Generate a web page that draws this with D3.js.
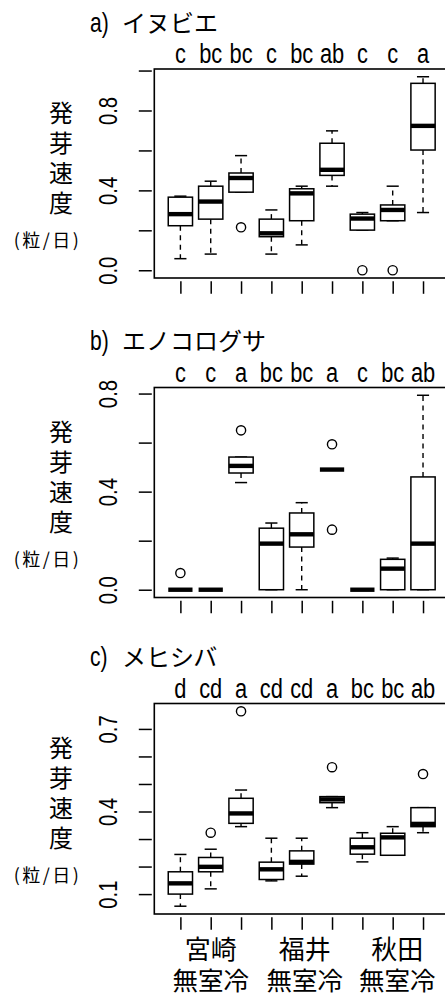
<!DOCTYPE html>
<html>
<head>
<meta charset="utf-8">
<script src="https://cdn.jsdelivr.net/npm/d3@7"></script>
<style>
  html, body { margin: 0; padding: 0; background: #fff; }
  svg { display: block; }
  .lat { font-family: "Liberation Sans", Arial, sans-serif; }
  .cjk { font-family: "Noto Sans CJK JP", "Noto Sans", sans-serif; }
</style>
</head>
<body>
<script>
// Germination speed (seeds/day) by site and storage treatment, three weed species.
const sites = ["宮崎", "福井", "秋田"];
const treatments = ["無", "室", "冷"];
const titleLetters = ["a)", "b)", "c)"];
const titleNames = ["イヌビエ", "エノコログサ", "メヒシバ"];
const yLabel = ["発", "芽", "速", "度"];
const yUnit = "(粒/日)";

// Significance letters, one per box
const lettersA = ["c", "bc", "bc", "c", "bc", "ab", "c", "c", "a"];
const lettersB = ["c", "c", "a", "bc", "bc", "a", "c", "bc", "ab"];
const lettersC = ["d", "cd", "a", "cd", "cd", "a", "bc", "bc", "ab"];

// Box statistics: [lower whisker, Q1, median, Q3, upper whisker]
const statsA = [
  [0.058, 0.223, 0.281, 0.366, 0.371],
  [0.081, 0.256, 0.344, 0.421, 0.446],
  [0.391, 0.391, 0.462, 0.487, 0.574],
  [0.081, 0.168, 0.185, 0.256, 0.302],
  [0.127, 0.248, 0.385, 0.408, 0.421],
  [0.421, 0.475, 0.503, 0.636, 0.698],
  [0.201, 0.201, 0.259, 0.281, 0.289],
  [0.248, 0.248, 0.302, 0.327, 0.421],
  [0.289, 0.602, 0.723, 0.936, 0.969]
];
const outliersA = [[], [], [0.215], [], [], [], [0.0], [0.0], []];

const statsB = [
  [0, 0, 0, 0, 0],
  [0, 0, 0, 0, 0],
  [0.437, 0.476, 0.505, 0.541, 0.541],
  [0, 0, 0.188, 0.251, 0.272],
  [0, 0.174, 0.226, 0.313, 0.355],
  [0.49, 0.49, 0.49, 0.49, 0.49],
  [0, 0, 0, 0, 0],
  [0, 0, 0.086, 0.124, 0.129],
  [0, 0, 0.188, 0.460, 0.793]
];
const outliersB = [[0.068], [], [0.650], [], [], [0.593, 0.245], [], [], []];

const statsC = [
  [0.056, 0.100, 0.139, 0.181, 0.244],
  [0.119, 0.181, 0.199, 0.233, 0.263],
  [0.345, 0.357, 0.393, 0.448, 0.478],
  [0.148, 0.153, 0.190, 0.216, 0.303],
  [0.165, 0.209, 0.217, 0.257, 0.303],
  [0.414, 0.432, 0.444, 0.454, 0.454],
  [0.217, 0.245, 0.270, 0.303, 0.323],
  [0.241, 0.241, 0.306, 0.321, 0.345],
  [0.323, 0.345, 0.355, 0.414, 0.414]
];
const outliersC = [[], [0.323], [0.764], [], [], [0.561], [], [], [0.536]];

// Axis ticks and which of them carry a label
const ticksA = [0.0, 0.2, 0.4, 0.6, 0.8, 1.0];
const tickLabelsA = ["0.0", "0.4", "0.8"];
const ticksB = [0.0, 0.2, 0.4, 0.6, 0.8];
const tickLabelsB = ["0.0", "0.4", "0.8"];
const ticksC = [0.1, 0.2, 0.3, 0.4, 0.5, 0.6, 0.7];
const tickLabelsC = ["0.1", "0.4", "0.7"];

const panels = [
  { tag: titleLetters[0], name: titleNames[0], letters: lettersA, stats: statsA, outliers: outliersA, ticks: ticksA, tickLabels: tickLabelsA, top: 69, bottom: 278 },
  { tag: titleLetters[1], name: titleNames[1], letters: lettersB, stats: statsB, outliers: outliersB, ticks: ticksB, tickLabels: tickLabelsB, top: 387.5, bottom: 597.5 },
  { tag: titleLetters[2], name: titleNames[2], letters: lettersC, stats: statsC, outliers: outliersC, ticks: ticksC, tickLabels: tickLabelsC, top: 703.5, bottom: 914 }
];

const W = 445, H = 994;
const plotLeft = 154.3;
const n = statsA.length;
const narrow = 0.78; // horizontal squeeze for the Latin lettering

const svg = d3.select("body").append("svg")
  .attr("width", W).attr("height", H)
  .attr("viewBox", `0 0 ${W} ${H}`);

// Box positions 1..n, range padded 4% beyond 0.5 and n + 0.5
const x = d3.scaleLinear()
  .domain([0.5 - 0.04 * n, n + 0.5 + 0.04 * n])
  .range([plotLeft, plotLeft + 30.33 * n * 1.08]);
const step = x(2) - x(1);
const boxW = step * 0.8;
const capW = boxW * 0.5;

panels.forEach(p => {
  const allVals = p.stats.flat().concat(p.outliers.flat());
  const lo = d3.min(allVals), hi = d3.max(allVals);
  const pad = (hi - lo) * 0.04;
  const y = d3.scaleLinear().domain([lo - pad, hi + pad]).range([p.bottom, p.top]);

  const g = svg.append("g");

  // Title: narrow Latin tag followed by the species name
  const ty = p.top - 37.5;
  g.append("text")
    .attr("class", "lat")
    .attr("font-size", 27)
    .attr("transform", `translate(90,${ty}) scale(${narrow},1)`)
    .text(p.tag);
  g.append("text")
    .attr("class", "cjk")
    .attr("x", 122).attr("y", ty)
    .attr("font-size", 24)
    .text(p.name);

  // Letters above each box
  g.selectAll("text.letter").data(p.letters).join("text")
    .attr("class", "letter lat")
    .attr("transform", (d, i) => `translate(${x(i + 1)},${p.top - 5.8}) scale(${narrow},1)`)
    .attr("text-anchor", "middle")
    .attr("font-size", 28)
    .text(d => d);

  // Plot frame (right edge falls past the page)
  g.append("rect")
    .attr("x", x.range()[0]).attr("y", p.top)
    .attr("width", x.range()[1] - x.range()[0])
    .attr("height", p.bottom - p.top)
    .attr("fill", "none").attr("stroke", "#000").attr("stroke-width", 1.6);

  // Left axis: tick marks offset from the frame
  const fmt = d3.format(".1f");
  const yAxis = d3.axisLeft(y)
    .tickValues(p.ticks)
    .tickSize(13)
    .tickFormat(d => p.tickLabels.includes(fmt(d)) ? fmt(d) : "");
  const ya = g.append("g")
    .attr("transform", `translate(${plotLeft - 2.5},0)`)
    .call(yAxis);
  ya.select(".domain").remove();
  ya.selectAll(".tick line").attr("stroke", "#000").attr("stroke-width", 1.5);
  ya.selectAll(".tick text")
    .attr("class", "lat")
    .attr("font-size", 26)
    .attr("fill", "#000")
    .attr("x", null).attr("dy", null)
    .attr("text-anchor", "middle")
    .attr("transform", `translate(-44,0) rotate(-90) scale(${narrow},1)`)
    .attr("dominant-baseline", "central");

  // Bottom axis ticks, no labels
  const xAxis = d3.axisBottom(x)
    .tickValues(d3.range(1, n + 1))
    .tickSize(12.5)
    .tickFormat("");
  const xa = g.append("g")
    .attr("transform", `translate(0,${p.bottom + 3.3})`)
    .call(xAxis);
  xa.select(".domain").remove();
  xa.selectAll(".tick line").attr("stroke", "#000").attr("stroke-width", 1.5);

  // Y label, stacked vertically
  g.selectAll("text.ylab").data(yLabel).join("text")
    .attr("class", "ylab cjk")
    .attr("x", 61)
    .attr("y", (d, i) => p.top + 42.6 + i * 30)
    .attr("text-anchor", "middle")
    .attr("dominant-baseline", "central")
    .attr("font-size", 24)
    .text(d => d);
  g.append("text")
    .attr("class", "cjk")
    .attr("x", 47.5).attr("y", p.top + 170)
    .attr("text-anchor", "middle")
    .attr("dominant-baseline", "central")
    .attr("font-size", 18)
    .attr("letter-spacing", 2.5)
    .text(yUnit);

  // Boxes
  const boxes = g.selectAll("g.box").data(p.stats).join("g").attr("class", "box");
  const dash = "5,4.5";
  boxes.each(function (s, i) {
    const b = d3.select(this);
    const cx = x(i + 1);
    const [lw, q1, med, q3, uw] = s;
    // whiskers
    if (uw > q3) {
      b.append("line").attr("x1", cx).attr("x2", cx).attr("y1", y(q3)).attr("y2", y(uw))
        .attr("stroke", "#000").attr("stroke-width", 1.4).attr("stroke-dasharray", dash);
    }
    if (lw < q1) {
      b.append("line").attr("x1", cx).attr("x2", cx).attr("y1", y(q1)).attr("y2", y(lw))
        .attr("stroke", "#000").attr("stroke-width", 1.4).attr("stroke-dasharray", dash);
    }
    // staples
    [lw, uw].forEach(v => {
      b.append("line").attr("x1", cx - capW / 2).attr("x2", cx + capW / 2)
        .attr("y1", y(v)).attr("y2", y(v))
        .attr("stroke", "#000").attr("stroke-width", 1.5);
    });
    // box
    b.append("rect")
      .attr("x", cx - boxW / 2).attr("y", y(q3))
      .attr("width", boxW).attr("height", Math.max(0, y(q1) - y(q3)))
      .attr("fill", "#fff").attr("stroke", "#000").attr("stroke-width", 1.5);
    // median
    b.append("line").attr("x1", cx - boxW / 2).attr("x2", cx + boxW / 2)
      .attr("y1", y(med)).attr("y2", y(med))
      .attr("stroke", "#000").attr("stroke-width", 4.4);
    // outliers
    b.selectAll("circle").data(p.outliers[i]).join("circle")
      .attr("cx", cx).attr("cy", d => y(d)).attr("r", 4.6)
      .attr("fill", "none").attr("stroke", "#000").attr("stroke-width", 1.4);
  });
});

// Site and treatment labels under the last panel
const siteAt = [2, 5.1, 8.15];
svg.selectAll("text.site").data(sites).join("text")
  .attr("class", "site cjk")
  .attr("x", (d, i) => x(siteAt[i]))
  .attr("y", 947)
  .attr("text-anchor", "middle")
  .attr("dominant-baseline", "central")
  .attr("font-size", 26)
  .text(d => d);
svg.selectAll("text.treat").data(sites).join("text")
  .attr("class", "treat cjk")
  .attr("x", (d, i) => x(siteAt[i]))
  .attr("y", 978)
  .attr("text-anchor", "middle")
  .attr("dominant-baseline", "central")
  .attr("font-size", 25.5)
  .text(treatments.join(""));
</script>
</body>
</html>
